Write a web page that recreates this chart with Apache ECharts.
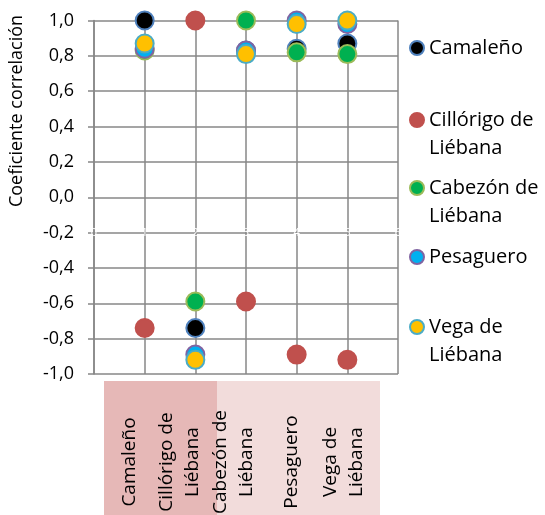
<!DOCTYPE html>
<html>
<head>
<meta charset="utf-8">
<script src="https://cdn.jsdelivr.net/npm/echarts@6/dist/echarts.min.js"></script>
<style>
html,body{margin:0;padding:0;background:#fff;}
#chart{width:545px;height:515px;}
</style>
</head>
<body>
<div id="chart"></div>
<script>
// Categories (municipios) - also used as legend and bottom table labels
const categories = ['Camaleño', 'Cillórigo de\nLiébana', 'Cabezón de\nLiébana', 'Pesaguero', 'Vega de\nLiébana'];
const xPositions = [1, 2, 3, 4, 5];
// Correlation coefficients per series (row) against each category (column)
const camaleno  = [1.00, -0.74, 0.83, 0.84, 0.87];
const cillorigo = [-0.74, 1.00, -0.59, -0.89, -0.92];
const cabezon   = [0.83, -0.59, 1.00, 0.82, 0.81];
const pesaguero = [0.84, -0.89, 0.83, 1.00, 0.98];
const vega      = [0.87, -0.92, 0.81, 0.98, 1.00];
const yTicks = [-1.0, -0.8, -0.6, -0.4, -0.2, 0.0, 0.2, 0.4, 0.6, 0.8, 1.0];
const yTitle = 'Coeficiente correlación';

const seriesValues = [camaleno, cillorigo, cabezon, pesaguero, vega];
const fills   = ['#000000', '#C0504D', '#00B050', '#00B0F0', '#FFC000'];
const borders = ['#4F81BD', '#C0504D', '#9BBB59', '#8064A2', '#4BACC6'];
const legendTops = [34, 78, 146, 243, 285];

const FONT = 'Open Sans';
const GRID = '#878787';

const chart = echarts.init(document.getElementById('chart'), null, {renderer: 'canvas'});

const series = seriesValues.map((vals, i) => ({
  name: categories[i],
  type: 'scatter',
  symbol: 'circle',
  symbolSize: 18,
  data: vals.map((v, j) => [xPositions[j], v]),
  itemStyle: {color: fills[i], borderColor: borders[i], borderWidth: 2, opacity: 1},
  emphasis: {disabled: true}
}));

const legends = categories.map((name, i) => {
  const twoLine = name.indexOf('\n') >= 0;
  return {
    data: [name],
    orient: 'vertical',
    left: 409,
    top: legendTops[i],
    padding: 0,
    icon: 'circle',
    itemWidth: 14,
    itemHeight: 14,
    itemGap: 0,
    selectedMode: false,
    formatter: n => (twoLine ? '\n' + n : n),
    textStyle: {fontFamily: FONT, fontSize: 20, color: '#000', lineHeight: 28}
  };
});

// Bottom table graphic (labels from the categories array)
const labelX = [130, 180, 234, 292, 343.5];
const graphics = [
  {type: 'rect', shape: {x: 104, y: 381, width: 113, height: 134}, style: {fill: '#E6B8B7'}, z: 0},
  {type: 'rect', shape: {x: 217, y: 381, width: 163, height: 134}, style: {fill: '#F2DCDB'}, z: 0},
  {type: 'text', x: 17, y: 111, rotation: Math.PI / 2,
   style: {text: yTitle, fontFamily: FONT, fontSize: 18, fill: '#000', align: 'center', verticalAlign: 'middle'}}
];
categories.forEach((name, i) => {
  graphics.push({
    type: 'text', x: labelX[i], y: 462, rotation: Math.PI / 2, z: 2,
    style: {text: name, fontFamily: FONT, fontSize: 19, lineHeight: 26, fill: '#000', align: 'center', verticalAlign: 'middle'}
  });
});

chart.setOption({
  animation: false,
  backgroundColor: '#fff',
  grid: {left: 94, right: 147, top: 20.5, bottom: 141, containLabel: false},
  xAxis: {
    type: 'value', min: 0, max: 6, interval: 1,
    position: 'bottom', offset: -141,
    axisLine: {show: false},
    axisTick: {show: false},
    axisLabel: {show: true, color: '#fff', fontSize: 11, margin: -6, fontFamily: FONT, showMinLabel: true, showMaxLabel: true},
    splitLine: {show: true, lineStyle: {color: GRID, width: 1.5}}
  },
  yAxis: {
    type: 'value', min: yTicks[0], max: yTicks[yTicks.length - 1], interval: 0.2,
    axisLine: {show: true, lineStyle: {color: GRID, width: 1.5}},
    axisTick: {show: true, length: 6, lineStyle: {color: GRID, width: 1.5}},
    axisLabel: {
      fontFamily: FONT, fontSize: 18, color: '#000', margin: 20,
      formatter: v => (Math.abs(v) < 1e-9 ? 0 : v).toFixed(1).replace('.', ',')
    },
    splitLine: {show: true, lineStyle: {color: GRID, width: 1.5}}
  },
  legend: legends,
  graphic: graphics,
  series: series
});
</script>
</body>
</html>
